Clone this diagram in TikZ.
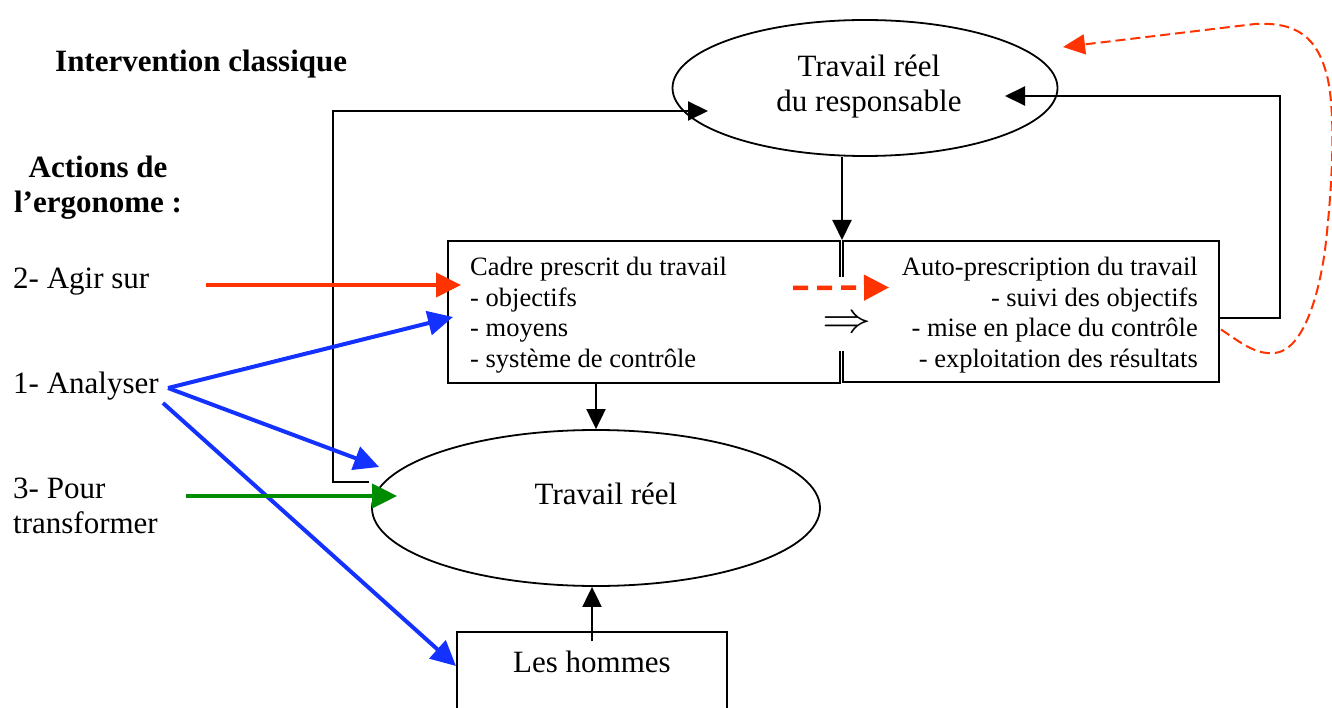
\documentclass[tikz,border=0pt]{standalone}
\usepackage{fontspec}
\setmainfont{Liberation Serif}
\usetikzlibrary{arrows.meta,calc,shapes.geometric}
\definecolor{ored}{RGB}{255,51,0}
\definecolor{vblue}{RGB}{20,50,255}
\definecolor{dgreen}{RGB}{0,140,0}

\begin{document}
\begin{tikzpicture}[x=1pt,y=-1pt,
  txtmain/.style={font=\fontsize{31}{35}\selectfont, inner sep=0pt},
  txtsmall/.style={font=\fontsize{26.5}{30.6}\selectfont, inner sep=0pt},
  txtbold/.style={font=\fontsize{31}{35}\selectfont\bfseries, inner sep=0pt},
  boxframe/.style={draw, line width=2pt, rectangle, inner sep=0pt},
  oval/.style={draw, line width=1.8pt, ellipse, inner sep=0pt},
  link/.style={line width=2pt, -{Triangle[length=20pt,width=19pt]}},
  boldarrow/.style={line width=4pt, -{Triangle[length=25pt,width=24pt]}},
]
\useasboundingbox (0,0) rectangle (1332,708);

% --- shapes ---
\node[oval, minimum width=385pt, minimum height=136pt] (resp) at (865,88) {};
\node[txtmain, align=center] (resptxt) at (869,87) {Travail réel\\du responsable};

\node[oval, minimum width=448pt, minimum height=156pt] (reel) at (596,508) {};
\node[txtmain, anchor=base] (reeltxt) at (606,504) {Travail réel};

\node[boxframe, minimum width=392pt, minimum height=142pt] (cadre) at (644,312) {};
\node[boxframe, minimum width=376pt, minimum height=141pt] (auto) at (1031,311.5) {};
\node[boxframe, minimum width=270pt, minimum height=110pt] (hommes) at (592,687) {};
\node[txtmain, anchor=base] (hommestxt) at (592,672) {Les hommes};

% opening between the two boxes
\fill[white] ($(cadre.north east)+(-4,37)$) rectangle ($(auto.north west)+(4,111)$);

\node[txtsmall, align=left, anchor=west] (cadretxt) at (470,315)
  {Cadre prescrit du travail\\- objectifs\\- moyens\\- système de contrôle};
\node[txtsmall, align=right, anchor=east] (autotxt) at (1198,315)
  {Auto-prescription du travail\\- suivi des objectifs\\- mise en place du contrôle\\- exploitation des résultats};
\node[inner sep=0pt, xscale=4.9, yscale=4.3] (impl) at (847,325) {$\Rightarrow$};

% --- left column ---
\node[txtbold, anchor=base west] (titre) at (55,72) {Intervention classique};
\node[txtbold, align=center] (actions) at (98,188) {Actions de\\l’ergonome :};
\node[txtmain, anchor=base west] (agir) at (13,289) {2- Agir sur};
\node[txtmain, anchor=base west] (analyser) at (13,393) {1- Analyser};
\node[txtmain, align=left, anchor=west] (pour) at (13,506) {3- Pour\\transformer};

% --- black connectors ---
\draw[link] (resp.south -| auto.north west) -- (auto.north west);
\draw[link] (cadre.south -| reel.north) -- (reel.north);
\draw[link] ($(hommes.north)+(0,10)$) -- (hommes.north |- reel.south);

\coordinate (loopA) at ($(reel.west)+(-2,-26)$);
\coordinate (loopB) at ($(resp.center)+(-157,23)$);
\draw[link] (loopA) -| (333,111) -- (loopB);

\coordinate (loopC) at ($(auto.east)+(0,6.5)$);
\coordinate (loopD) at ($(resp.center)+(140,8)$);
\draw[link] (loopC) -- (1280,318) -- (1280,96) -- (loopD);

% --- actions of the ergonomist ---
\coordinate (agirS) at (206,285);
\coordinate (anaS) at (168,388);
\coordinate (anaT) at (163,403);
\coordinate (pourS) at (186,496);

\draw[boldarrow, ored] (agirS) -- ($(cadre.west)+(14,-27)$);
\draw[boldarrow, vblue] (anaS) -- ($(cadre.west)+(6,5)$);
\draw[boldarrow, vblue] (anaS) -- ($(reel.west)+(8,-41)$);
\draw[boldarrow, vblue] (anaT) -- ($(hommes.north west)+(0,35)$);
\draw[boldarrow, dgreen] (pourS) -- ($(reel.west)+(26,-12)$);

% --- red dashed links ---
\draw[ored, line width=4.5pt, dash pattern=on 15pt off 9pt,
      -{Triangle[length=25pt,width=25pt]}]
  ($(cadre.east)+(-48,-24)$) -- ($(auto.west)+(47,-24)$);

\coordinate (curS) at ($(auto.east)+(1,18)$);
\coordinate (curE) at ($(resp.center)+(198,-41)$);
\draw[ored, line width=2pt, dash pattern=on 10pt off 5pt,
      -{Triangle[length=22pt,width=20pt]}]
  (curS) .. controls (1240,342) and (1255,355) .. (1275,353)
         .. controls (1302,350) and (1318,300) .. (1325,250)
         .. controls (1332,190) and (1336,120) .. (1328,80)
         .. controls (1318,35) and (1295,22) .. (1255,24)
         -- (curE);
\end{tikzpicture}
\end{document}
